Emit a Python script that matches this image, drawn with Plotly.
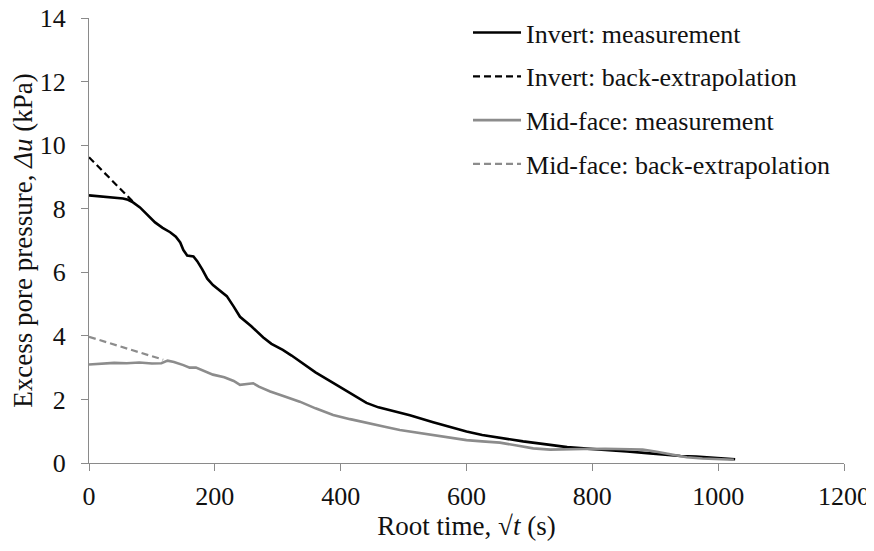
import plotly.graph_objects as go

# Invert measurement
inv_x = [0, 10, 20, 30, 40, 54, 62, 70, 81, 92, 105, 117, 129, 138, 145, 150, 156, 166, 172, 180, 188, 197, 208, 219, 230, 240, 258, 277, 290, 308, 322, 335, 360, 388, 415, 441, 460, 479, 510, 547, 575, 600, 625, 653, 690, 733, 760, 786, 810, 834, 855, 887, 910, 940, 965, 987, 1010, 1027]
inv_y = [8.42, 8.4, 8.37, 8.36, 8.35, 8.32, 8.28, 8.2, 8.04, 7.82, 7.57, 7.4, 7.26, 7.12, 6.94, 6.7, 6.53, 6.5, 6.35, 6.09, 5.8, 5.6, 5.42, 5.25, 4.92, 4.6, 4.3, 3.95, 3.75, 3.56, 3.38, 3.2, 2.85, 2.52, 2.2, 1.89, 1.75, 1.65, 1.5, 1.28, 1.12, 0.99, 0.88, 0.79, 0.68, 0.57, 0.5, 0.46, 0.43, 0.4, 0.36, 0.31, 0.27, 0.22, 0.2, 0.18, 0.15, 0.12]

# Invert back-extrapolation
inv_ext_x = [0, 70]
inv_ext_y = [9.62, 8.22]

# Mid-face measurement
mid_x = [0, 20, 40, 60, 80, 100, 115, 125, 135, 150, 160, 170, 185, 197, 215, 230, 240, 250, 261, 270, 288, 310, 335, 360, 388, 415, 441, 470, 494, 520, 547, 575, 600, 625, 653, 680, 706, 733, 760, 786, 820, 860, 880, 900, 925, 950, 975, 1000, 1025]
mid_y = [3.1, 3.12, 3.15, 3.14, 3.16, 3.13, 3.14, 3.22, 3.18, 3.08, 3.0, 3.0, 2.88, 2.78, 2.7, 2.58, 2.46, 2.48, 2.51, 2.4, 2.25, 2.1, 1.93, 1.72, 1.51, 1.38, 1.26, 1.14, 1.04, 0.96, 0.88, 0.8, 0.72, 0.68, 0.64, 0.55, 0.46, 0.42, 0.42, 0.44, 0.45, 0.44, 0.42, 0.36, 0.26, 0.18, 0.14, 0.12, 0.1]

# Mid-face back-extrapolation
mid_ext_x = [0, 118]
mid_ext_y = [3.97, 3.25]

FONT = "'Liberation Serif', 'Times New Roman', 'DejaVu Serif', serif"
BLACK = "#000000"
GRAY = "#8c8c8c"
DASH = "7px,4px"

fig = go.Figure()
fig.add_trace(go.Scatter(x=inv_x, y=inv_y, mode="lines", name="Invert: measurement",
                         line=dict(color=BLACK, width=2.6), legendgroup="a"))
fig.add_trace(go.Scatter(x=inv_ext_x, y=inv_ext_y, mode="lines", name="Invert: back-extrapolation",
                         line=dict(color=BLACK, width=2.2, dash=DASH), legendgroup="b"))
fig.add_trace(go.Scatter(x=mid_x, y=mid_y, mode="lines", name="Mid-face: measurement",
                         line=dict(color=GRAY, width=2.6), legendgroup="c"))
fig.add_trace(go.Scatter(x=mid_ext_x, y=mid_ext_y, mode="lines", name="Mid-face: back-extrapolation",
                         line=dict(color=GRAY, width=2.2, dash=DASH), legendgroup="d"))

fig.update_layout(
    width=866, height=543,
    margin=dict(l=81, r=30, t=10, b=88, autoexpand=False),
    paper_bgcolor="white", plot_bgcolor="white",
    font=dict(family=FONT, size=24, color="#111111"),
    showlegend=True,
    legend=dict(x=0.502, y=1.02, xanchor="left", yanchor="top",
                font=dict(family=FONT, size=26, color="#111111"),
                tracegroupgap=7, itemwidth=48, bgcolor="rgba(0,0,0,0)"),
    xaxis=dict(range=[0, 1200], tickvals=[0, 200, 400, 600, 800, 1000, 1200],
               showgrid=False, zeroline=False, showline=True, linecolor="#8a8a8a", linewidth=1,
               ticks="outside", ticklen=7, tickcolor="#8a8a8a", automargin=False,
               ticklabelstandoff=3, ticklabeloverflow="allow",
               tickfont=dict(family=FONT, size=26),
               title=dict(text="Root time, \u221a<i>t</i> (s)", font=dict(family=FONT, size=27), standoff=5)),
    yaxis=dict(range=[0, 14], tickvals=[0, 2, 4, 6, 8, 10, 12, 14],
               showgrid=False, zeroline=False, showline=True, linecolor="#8a8a8a", linewidth=1,
               ticks="outside", ticklen=7, tickcolor="#8a8a8a", automargin=False,
               ticklabelstandoff=10, ticklabeloverflow="allow",
               tickfont=dict(family=FONT, size=26),
               title=dict(text="Excess pore pressure, <i>\u0394u</i> (kPa)", font=dict(family=FONT, size=27), standoff=6)),
)

fig.write_html("out.html")
